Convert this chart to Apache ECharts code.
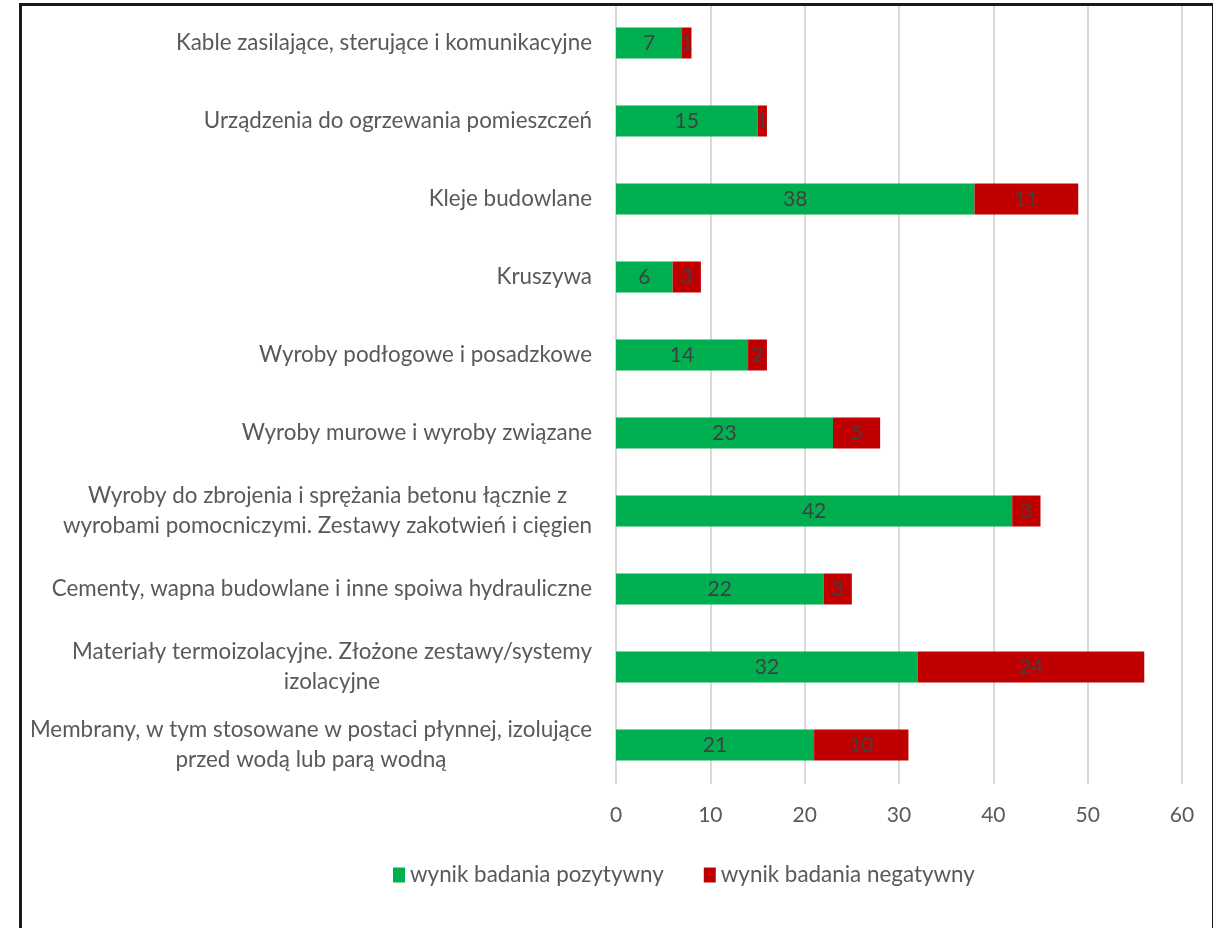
<!DOCTYPE html>
<html><head><meta charset="utf-8">
<script src="https://cdn.jsdelivr.net/npm/echarts@6/dist/echarts.min.js"></script>
<style>
html,body{margin:0;padding:0;background:#fff;}
#c{position:absolute;left:0;top:0;width:1213px;height:928px;}
#b{position:absolute;left:19px;top:3px;width:1190px;height:940px;border:3px solid #1a1a1a;pointer-events:none;}
</style></head><body>
<div id="c"></div><div id="b"></div>
<script>
const categories = [
  "Kable zasilające, sterujące i komunikacyjne",
  "Urządzenia do ogrzewania pomieszczeń",
  "Kleje budowlane",
  "Kruszywa",
  "Wyroby podłogowe i posadzkowe",
  "Wyroby murowe i wyroby związane",
  "Wyroby do zbrojenia i sprężania betonu łącznie z\nwyrobami pomocniczymi. Zestawy zakotwień i cięgien",
  "Cementy, wapna budowlane i inne spoiwa hydrauliczne",
  "Materiały termoizolacyjne. Złożone zestawy/systemy\nizolacyjne",
  "Membrany, w tym stosowane w postaci płynnej, izolujące\nprzed wodą lub parą wodną"
];
const positive = [7, 15, 38, 6, 14, 23, 42, 22, 32, 21];
const negative = [1, 1, 11, 3, 2, 5, 3, 3, 24, 10];
const seriesNames = ["wynik badania pozytywny", "wynik badania negatywny"];
const xTicks = [0, 10, 20, 30, 40, 50, 60];

const FONT = "Lato";
const chart = echarts.init(document.getElementById('c'), null, {renderer: 'canvas'});
const labelStyle = {show: true, position: 'inside', color: '#404040', fontSize: 21, fontFamily: FONT};
chart.setOption({
  animation: false,
  backgroundColor: '#fff',
  grid: {left: 616, right: 31, top: 4, bottom: 144, containLabel: false},
  legend: {
    data: seriesNames, left: 388, top: 859, itemWidth: 12, itemHeight: 15, itemGap: 40,
    icon: 'rect', textStyle: {color: '#595959', fontSize: 22.4, fontFamily: FONT, padding: [0, 0, 0, 0]}
  },
  xAxis: {
    type: 'value', min: xTicks[0], max: xTicks[xTicks.length - 1], interval: 10,
    axisLine: {show: false}, axisTick: {show: false},
    splitLine: {lineStyle: {color: '#d9d9d9', width: 2}},
    axisLabel: {color: '#595959', fontSize: 21, fontFamily: FONT, margin: 21}
  },
  yAxis: {
    type: 'category', data: categories, inverse: true,
    axisLine: {show: false}, axisTick: {show: false},
    axisLabel: {
      margin: 24, align: 'right',
      formatter: v => v.split('\n').map(s => '{c|' + s + '}').join('\n'),
      rich: {c: {align: 'center', color: '#595959', fontSize: 22.4, fontFamily: FONT, lineHeight: 30}}
    }
  },
  series: [
    {name: seriesNames[0], type: 'bar', stack: 'a', data: positive, barWidth: 31,
     itemStyle: {color: '#00B050'}, label: labelStyle},
    {name: seriesNames[1], type: 'bar', stack: 'a', data: negative, barWidth: 31,
     itemStyle: {color: '#C00000'}, label: labelStyle}
  ]
});
</script>
</body></html>
